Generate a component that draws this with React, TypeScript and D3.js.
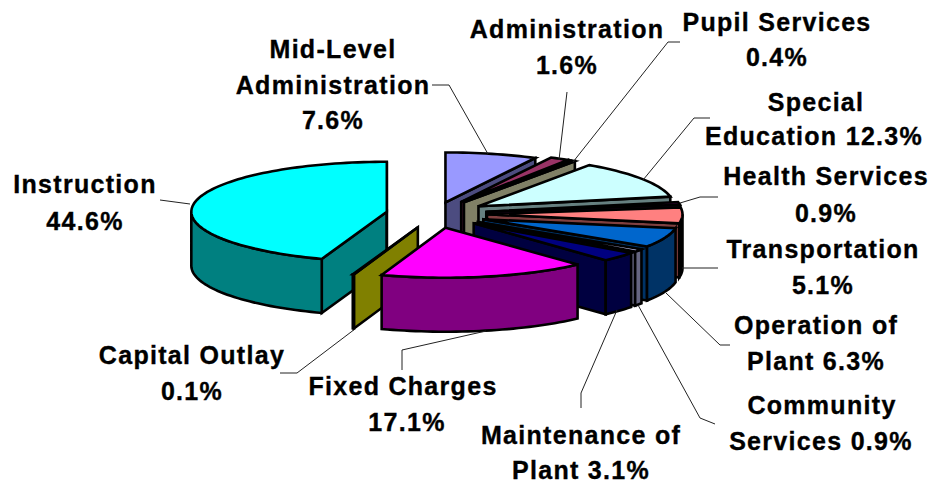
import React from "react";
import * as d3 from "d3";

const names = ["Mid-Level Administration","Administration","Pupil Services","Special Education","Health Services","Transportation","Operation of Plant","Community Services","Maintenance of Plant","Fixed Charges","Capital Outlay","Instruction"];
const shares = [7.6,1.6,0.4,12.3,0.9,5.1,6.3,0.9,3.1,17.1,0.1,44.6];
const explode = [0.85,1,1,1,1,1,1,1,1,1,1,0.94];
const topColors = ["#9999FF","#993366","#FFFFCC","#CCFFFF","#660066","#FF8080","#0066CC","#CCCCFF","#000080","#FF00FF","#808000","#00FFFF"];
const sideColors = ["#4C4C80","#4C1933","#808066","#668080","#330033","#804040","#003366","#666680","#000040","#800080","#808000","#008080"];
const rimColors = ["#4C4C80","#4C1933","#808066","#668080","#000000","#000000","#003366","#666680","#000040","#800080","#808000","#008080"];
const drawOrder = [11,0,1,2,3,4,5,6,7,8,10,9];

type Lab = { lines: [string, number, number][] };
const labels: Lab[] = [
  { lines: [["Mid-Level",333,49],["Administration",333,85],["7.6%",333,120]] },
  { lines: [["Administration",567,29],["1.6%",567,65]] },
  { lines: [["Pupil Services",777,22],["0.4%",777,57]] },
  { lines: [["Special",816,102],["Education 12.3%",814,136]] },
  { lines: [["Health Services",826,176],["0.9%",826,213]] },
  { lines: [["Transportation",823,249],["5.1%",823,285]] },
  { lines: [["Operation of",816,325],["Plant 6.3%",816,361]] },
  { lines: [["Community",822,405],["Services 0.9%",821,441]] },
  { lines: [["Maintenance of",581,435],["Plant 3.1%",581,470]] },
  { lines: [["Fixed Charges",403,386],["17.1%",407,422]] },
  { lines: [["Capital Outlay",192,355],["0.1%",192,391]] },
  { lines: [["Instruction",85,184],["44.6%",85,221]] },
];
const leaders: [number, number][][] = [
  [[432,85],[449,85],[488,154]],
  [[567,92],[559,160]],
  [[680,42],[668,42],[573,162]],
  [[710,118],[694,118],[643,180]],
  [[718,197],[700,197],[680,203]],
  [[718,268],[682,268]],
  [[730,345],[720,345],[666,293]],
  [[715,424],[700,418],[638,305]],
  [[581,408],[581,393],[617,310]],
  [[402,370],[402,350],[486,331]],
  [[280,373],[297,373],[355,329]],
  [[160,200],[190,204]],
];

const W = 931, H = 483;
const cx = 435, cy = 214, rx = 195.5, ry = 50, depth = 54, ex = 52, ey = 14;

const pie = d3.pie<number>().sort(null).value((d) => d);
const arcs = pie(shares);
const xS = d3.scaleLinear().domain([-1, 1]).range([-rx, rx]);
const yS = d3.scaleLinear().domain([-1, 1]).range([-ry, ry]);
const line = d3.line<[number, number]>();

function App() {
  const slices = drawOrder.map((i) => {
    const a = arcs[i];
    const mid = (a.startAngle + a.endAngle) / 2;
    const ax = cx + explode[i] * ex * Math.sin(mid);
    const ay = cy - explode[i] * ey * Math.cos(mid);
    const pt = (t: number, dz = 0): [number, number] => [ax + xS(Math.sin(t)), ay + yS(-Math.cos(t)) + dz];
    const sample = (t0: number, t1: number, dz = 0) => {
      const n = Math.max(2, Math.ceil((t1 - t0) / 0.03));
      return d3.range(n + 1).map((k) => pt(t0 + ((t1 - t0) * k) / n, dz));
    };
    const top = [[ax, ay] as [number, number], ...sample(a.startAngle, a.endAngle)];
    const faces: { d: [number, number][]; fill: string }[] = [];
    const face = (t: number) => [[ax, ay], pt(t), pt(t, depth), [ax, ay + depth]] as [number, number][];
    if (Math.sin(a.startAngle) < 0) faces.push({ d: face(a.startAngle), fill: sideColors[i] });
    if (Math.sin(a.endAngle) > 0) faces.push({ d: face(a.endAngle), fill: sideColors[i] });
    const w0 = Math.max(a.startAngle, Math.PI / 2);
    const w1 = Math.min(a.endAngle, (3 * Math.PI) / 2);
    if (w1 > w0) faces.push({ d: [...sample(w0, w1), ...sample(w0, w1, depth).reverse()], fill: rimColors[i] });
    return { i, top, faces };
  });
  return (
    <svg width={W} height={H} style={{ position: "absolute", left: 0, top: 0, display: "block", background: "#fff" }}>
      <g stroke="#000" strokeWidth={2.6} strokeLinejoin="miter">
        {slices.map((s) => (
          <g key={names[s.i]}>
            {s.faces.map((f, k) => (
              <path key={k} d={line(f.d) + "Z"} fill={f.fill} />
            ))}
            <path d={line(s.top) + "Z"} fill={topColors[s.i]} />
          </g>
        ))}
      </g>
      <g fill="none" stroke="#222" strokeWidth={1}>
        {leaders.map((l, i) => (
          <path key={i} d={line(l) ?? ""} />
        ))}
      </g>
      <g fontFamily="Liberation Sans" fontWeight="bold" fontSize={25} letterSpacing={1.3} stroke="#000" strokeWidth={0.35} textAnchor="middle" fill="#000">
        {labels.flatMap((l) =>
          l.lines.map(([t, x, y]) => (
            <text key={t + x} x={x} y={y} dy="0.35em">{t}</text>
          ))
        )}
      </g>
    </svg>
  );
}
export default App;
